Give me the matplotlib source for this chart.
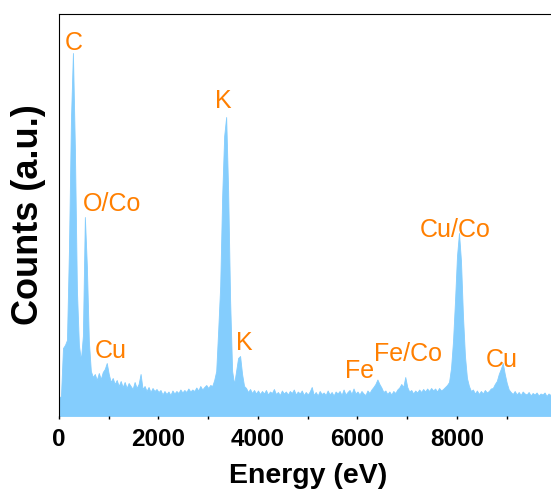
import numpy as np
import matplotlib.pyplot as plt

plt.rcParams['font.family'] = ['Liberation Sans', 'DejaVu Sans']

# EDS spectrum, 40 eV channels starting at 0 eV (counts, arbitrary units)
channel_width = 40
counts = [
    # 0 - 960 eV
    180, 200, 680, 710, 760, 1660, 2960, 3630, 2660, 1260, 710, 560, 800,
    1990, 1500, 750, 450, 390, 420, 360, 430, 370, 440, 470, 530,
    # 1000 - 1960 eV
    420, 340, 380, 320, 360, 300, 350, 290, 340, 280, 330, 300, 270,
    340, 280, 320, 420, 270, 300, 250, 290, 240, 280, 250, 270,
    # 2000 - 2960 eV
    240, 260, 215, 250, 220, 245, 210, 255, 225, 250, 230, 265, 235,
    260, 240, 275, 245, 265, 250, 285, 255, 300, 265, 290, 310,
    # 3000 - 3960 eV
    280, 310, 300, 360, 450, 860, 1300, 2200, 2800, 2990, 2250, 1150, 450,
    320, 450, 580, 600, 420, 300, 280, 240, 270, 230, 260, 225,
    # 4000 - 4960 eV
    255, 220, 250, 225, 260, 215, 245, 230, 270, 220, 240, 210, 255,
    225, 245, 215, 250, 230, 265, 215, 245, 225, 255, 210, 240,
    # 5000 - 5960 eV
    215, 245, 290, 210, 240, 205, 250, 220, 235, 210, 255, 215, 240,
    205, 245, 225, 250, 210, 265, 215, 240, 260, 220, 275, 225,
    # 6000 - 6960 eV
    245, 215, 250, 225, 210, 255, 230, 265, 290, 320, 365, 320, 285,
    240, 255, 220, 245, 215, 250, 230, 265, 285, 320, 290, 390,
    # 7000 - 7960 eV
    290, 245, 260, 225, 255, 235, 265, 240, 270, 245, 275, 250, 280,
    255, 275, 245, 280, 255, 270, 290, 310, 340, 480, 750, 1150,
    # 8000 - 8960 eV
    1600, 1830, 1550, 1000, 600, 380, 300, 250, 265, 225, 255, 220, 250,
    225, 260, 235, 250, 275, 280, 320, 350, 420, 470, 530, 420,
    # 9000 - 9960 eV
    330, 265, 240, 220, 250, 215, 240, 210, 245, 225, 215, 240, 205,
    230, 215, 235, 205, 225, 215, 235, 200, 225, 210, 230, 205,
]
energy = np.arange(len(counts)) * channel_width

# peak labels
peak_names = ['C', 'O/Co', 'Cu', 'K', 'K', 'Fe', 'Fe/Co', 'Cu/Co', 'Cu']
peak_x = [302, 1065, 1045, 3296, 3719, 6050, 7015, 7960, 8904]
peak_y = [3660, 2050, 580, 3080, 660, 380, 550, 1790, 490]

fig = plt.figure(figsize=(5.51, 4.95), dpi=100)
ax = fig.add_axes([59/551, 79/495, 497.5/551, 402/495])

ax.fill_between(energy, counts, 0, color='#84CDFD', edgecolor='#84CDFD', lw=0.6)
for name, x, y in zip(peak_names, peak_x, peak_y):
    ax.text(x, y, name, color='#FF7F00', fontsize=18, ha='center', va='baseline')

ax.set_xlim(0, 10000)
ax.set_ylim(0, 4020)
ax.set_xticks([0, 2000, 4000, 6000, 8000])
ax.set_xticks([1000, 3000, 5000, 7000, 9000], minor=True)
ax.set_yticks([])
ax.tick_params(axis='x', which='both', direction='out', length=2.5, width=1, pad=6)
for lab in ax.get_xticklabels():
    lab.set_fontsize(17.5)
    lab.set_fontweight('bold')
ax.spines['bottom'].set_visible(False)
ax.set_xlabel('Energy (eV)', fontsize=20.5, fontweight='bold', labelpad=9)
ax.set_ylabel('Counts (a.u.)', fontsize=26, fontweight='bold', labelpad=9)

fig.savefig('out.png', dpi=100)
